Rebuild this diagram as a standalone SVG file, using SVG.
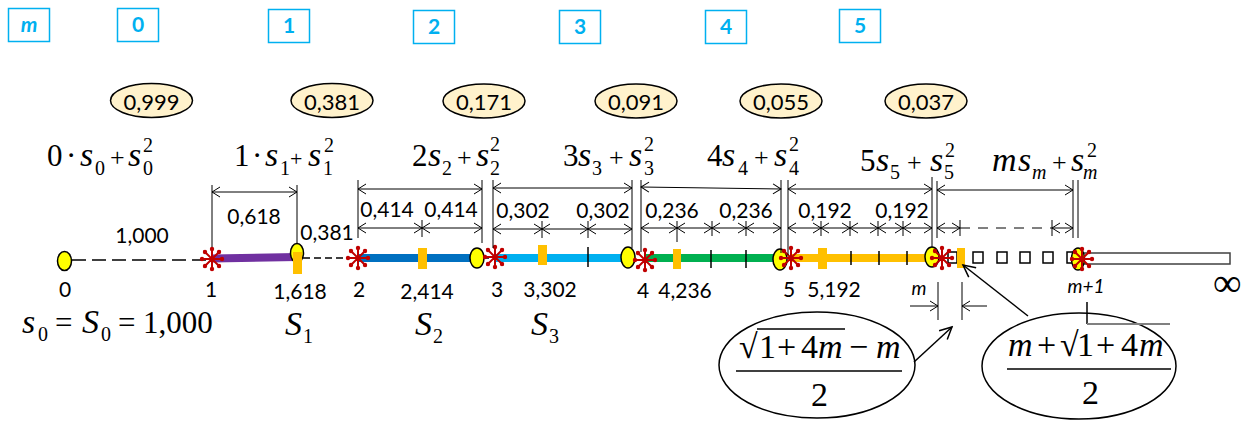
<svg xmlns="http://www.w3.org/2000/svg" width="1256" height="421" viewBox="0 0 1256 421">
<defs>
<style>
.bx{fill:none;stroke:#00B0F0;stroke-width:1.5}
.bt{font-family:Lato,"Liberation Sans",sans-serif;font-weight:bold;font-size:21px;fill:#00B0F0;text-anchor:middle}
.ve{fill:#FFF2CC;stroke:#000;stroke-width:1.5}
.n{font-family:Lato,"Liberation Sans",sans-serif;font-size:21px;fill:#000;text-anchor:middle}
.vn{font-family:Lato,"Liberation Sans",sans-serif;font-size:22px;fill:#000;text-anchor:middle}
.f{font-family:"Liberation Serif","Times New Roman",serif;font-size:31px;fill:#000}
.fb{font-family:"Liberation Serif","Times New Roman",serif;font-size:34px;fill:#000}
.i{font-style:italic;font-size:34px}
.s{font-size:20px}
.si{font-size:20px;font-style:italic}
.p{font-size:26px}
.dl{stroke:#000;stroke-width:1;fill:none}
.da{stroke:#000;stroke-width:1;fill:none;marker-start:url(#ah);marker-end:url(#ah)}
.yel{fill:#FFFF00;stroke:#000;stroke-width:1.5}
.or{fill:#FFC000}
.tk{stroke:#000;stroke-width:1.5}
.sq{fill:#fff;stroke:#000;stroke-width:1.5}
.it{font-family:Lato,"Liberation Sans",sans-serif;font-size:19px;font-style:italic;fill:#000;text-anchor:middle}
</style>
<marker id="ah" viewBox="-10 -6 12 12" refX="0" refY="0" markerWidth="12" markerHeight="12" markerUnits="userSpaceOnUse" orient="auto-start-reverse"><path d="M-8,-5L0,0L-8,5" fill="none" stroke="#000" stroke-width="1"/></marker>
<marker id="ah2" viewBox="-14 -8 16 16" refX="0" refY="0" markerWidth="16" markerHeight="16" markerUnits="userSpaceOnUse" orient="auto"><path d="M-12,-6L0,0L-12,6" fill="none" stroke="#000" stroke-width="1.5"/></marker>
<g id="ast">
<path d="M0,-11V11M-11,0H11M-7.8,-7.8L7.8,7.8M-7.8,7.8L7.8,-7.8" stroke="#C00000" stroke-width="2" stroke-linecap="round"/>
<g fill="#C00000"><circle cx="0" cy="-10" r="2.2"/><circle cx="0" cy="10" r="2.2"/><circle cx="-10" cy="0" r="2.2"/><circle cx="10" cy="0" r="2.2"/><circle cx="-7" cy="-7" r="2.2"/><circle cx="7" cy="7" r="2.2"/><circle cx="-7" cy="7" r="2.2"/><circle cx="7" cy="-7" r="2.2"/></g>
</g>
</defs>
<rect width="1256" height="421" fill="#fff"/>

<g id="index-boxes">
<g id="box-m"><rect class="bx" x="8.5" y="8.5" width="41" height="33"/><text class="bt" x="29" y="32" font-style="italic">m</text></g>
<g id="box-0"><rect class="bx" x="117.5" y="8.5" width="41" height="33"/><text class="bt" x="138" y="32">0</text></g>
<g id="box-1"><rect class="bx" x="268.5" y="9.5" width="41" height="33"/><text class="bt" x="289" y="33">1</text></g>
<g id="box-2"><rect class="bx" x="413.5" y="10.5" width="41" height="33"/><text class="bt" x="434" y="34">2</text></g>
<g id="box-3"><rect class="bx" x="559.5" y="10.5" width="41" height="33"/><text class="bt" x="580" y="34">3</text></g>
<g id="box-4"><rect class="bx" x="705.5" y="10.5" width="41" height="33"/><text class="bt" x="726" y="34">4</text></g>
<g id="box-5"><rect class="bx" x="839.5" y="9.5" width="41" height="33"/><text class="bt" x="860" y="33">5</text></g>
</g>

<g id="values">
<g id="v0"><ellipse class="ve" cx="151.5" cy="100.5" rx="41" ry="17"/><text class="vn" x="151.5" y="110">0,999</text></g>
<g id="v1"><ellipse class="ve" cx="332" cy="100.5" rx="41" ry="17"/><text class="vn" x="332" y="110">0,381</text></g>
<g id="v2"><ellipse class="ve" cx="484" cy="101" rx="41" ry="17"/><text class="vn" x="484" y="110">0,171</text></g>
<g id="v3"><ellipse class="ve" cx="636" cy="101" rx="41" ry="17"/><text class="vn" x="636" y="110">0,091</text></g>
<g id="v4"><ellipse class="ve" cx="781" cy="101" rx="41" ry="17"/><text class="vn" x="781" y="110">0,055</text></g>
<g id="v5"><ellipse class="ve" cx="926" cy="101" rx="41" ry="17"/><text class="vn" x="926" y="110">0,037</text></g>
</g>

<g id="formulas">
<text id="f0" class="f"><tspan x="47" y="166">0</tspan><tspan x="66">·</tspan><tspan x="80" class="i">s</tspan><tspan x="95" y="175" class="s">0</tspan><tspan x="110" y="166" class="p">+</tspan><tspan x="128" class="i">s</tspan><tspan x="143" y="152" class="s">2</tspan><tspan x="143" y="175" class="s">0</tspan></text>
<text id="f1" class="f"><tspan x="234" y="166">1</tspan><tspan x="252">·</tspan><tspan x="265" class="i">s</tspan><tspan x="280" y="175" class="s">1</tspan><tspan x="290" y="166" font-size="22">+</tspan><tspan x="308" class="i">s</tspan><tspan x="324" y="152" class="s">2</tspan><tspan x="323" y="175" class="s">1</tspan></text>
<text id="f2" class="f"><tspan x="412" y="166">2</tspan><tspan x="428" class="i">s</tspan><tspan x="442" y="175" class="s">2</tspan><tspan x="457" y="166" class="p">+</tspan><tspan x="476" class="i">s</tspan><tspan x="490" y="151" class="s">2</tspan><tspan x="490" y="175" class="s">2</tspan></text>
<text id="f3" class="f"><tspan x="563" y="166">3</tspan><tspan x="578" class="i">s</tspan><tspan x="592" y="175" class="s">3</tspan><tspan x="609" y="166" class="p">+</tspan><tspan x="629" class="i">s</tspan><tspan x="644" y="151" class="s">2</tspan><tspan x="644" y="175" class="s">3</tspan></text>
<text id="f4" class="f"><tspan x="707" y="166">4</tspan><tspan x="722" class="i">s</tspan><tspan x="738" y="175" class="s">4</tspan><tspan x="754" y="166" class="p">+</tspan><tspan x="774" class="i">s</tspan><tspan x="789" y="151" class="s">2</tspan><tspan x="789" y="175" class="s">4</tspan></text>
<text id="f5" class="f"><tspan x="860" y="171">5</tspan><tspan x="876" class="i">s</tspan><tspan x="890" y="179" class="s">5</tspan><tspan x="907" y="171" class="p">+</tspan><tspan x="930" class="i">s</tspan><tspan x="945" y="157" class="s">2</tspan><tspan x="944" y="179" class="s">5</tspan></text>
<text id="fm" class="f"><tspan x="992" y="171" class="i">m</tspan><tspan x="1018" class="i">s</tspan><tspan x="1032" y="179" class="si">m</tspan><tspan x="1052" y="171" class="p">+</tspan><tspan x="1071" class="i">s</tspan><tspan x="1087" y="157" class="s">2</tspan><tspan x="1083" y="179" class="si">m</tspan></text>
</g>

<g id="axis">
<line x1="72" y1="260" x2="208" y2="260" stroke="#000" stroke-width="1.5" stroke-dasharray="14 6"/>
<line x1="200" y1="259" x2="212" y2="259" stroke="#000" stroke-width="1.5"/>
<line x1="303" y1="258" x2="352" y2="258" stroke="#000" stroke-width="1.5" stroke-dasharray="7 4"/>
<path d="M212,258.5L297,257" stroke="#7030A0" stroke-width="8"/>
<line x1="358" y1="258" x2="476" y2="258" stroke="#0070C0" stroke-width="8"/>
<line x1="483" y1="258" x2="489" y2="258" stroke="#000" stroke-width="1.5"/>
<line x1="495" y1="258" x2="628" y2="258" stroke="#00B0F0" stroke-width="8"/>
<line x1="645" y1="258" x2="778" y2="258" stroke="#00B050" stroke-width="8"/>
<line x1="790" y1="258" x2="931" y2="258" stroke="#FFC000" stroke-width="8"/>
<g id="ticks">
<line class="tk" x1="588" y1="247" x2="588" y2="267"/>
<line class="tk" x1="711" y1="250" x2="711" y2="268"/>
<line class="tk" x1="746" y1="250" x2="746" y2="268"/>
<line class="tk" x1="851" y1="251" x2="851" y2="265"/>
<line class="tk" x1="879" y1="251" x2="879" y2="265"/>
<line class="tk" x1="907" y1="251" x2="907" y2="265"/>
</g>
<g id="squares">
<rect class="sq" x="948" y="252" width="9" height="11"/>
<rect class="sq" x="973" y="252" width="10" height="11"/>
<rect class="sq" x="997" y="252" width="10" height="11"/>
<rect class="sq" x="1020" y="252" width="10" height="11"/>
<rect class="sq" x="1043" y="252" width="10" height="11"/>
<rect class="sq" x="1067" y="252" width="10" height="11"/>
<rect x="1083" y="253" width="147" height="11" fill="#fff" stroke="#404040" stroke-width="1.5"/>
</g>
<g id="points">
<ellipse class="yel" cx="64.5" cy="261" rx="7" ry="9.5"/>
<ellipse class="yel" cx="297" cy="253" rx="6.5" ry="9.5"/>
<ellipse class="yel" cx="477" cy="258" rx="7" ry="10"/>
<ellipse class="yel" cx="628" cy="257.5" rx="7" ry="10.5"/>
<ellipse class="yel" cx="780" cy="259.5" rx="7" ry="10.5"/>
<ellipse class="yel" cx="932" cy="257" rx="7" ry="10"/>
<ellipse class="yel" cx="1078" cy="259" rx="6.5" ry="11"/>
</g>
<g id="marks">
<rect class="or" x="293" y="252" width="9" height="22"/>
<rect class="or" x="418" y="248" width="9" height="21"/>
<rect class="or" x="538" y="245" width="9" height="20"/>
<rect class="or" x="673" y="249" width="8" height="20"/>
<rect class="or" x="818" y="248" width="9" height="21"/>
<rect class="or" x="957" y="248" width="8" height="20"/>
</g>
<g id="stars">
<use href="#ast" x="212" y="259"/>
<use href="#ast" x="358" y="258"/>
<use href="#ast" x="495" y="257"/>
<use href="#ast" x="645" y="260"/>
<use href="#ast" x="791" y="258"/>
<use href="#ast" x="942" y="258"/>
<use href="#ast" x="1082" y="259"/>
</g>
</g>

<g id="dimensions">
<g id="ext">
<line class="dl" x1="212" y1="185" x2="212" y2="247"/>
<line class="dl" x1="297" y1="185" x2="297" y2="243"/>
<line class="dl" x1="358" y1="180" x2="358" y2="238"/>
<line class="dl" x1="482" y1="180" x2="482" y2="243"/>
<line class="dl" x1="493" y1="180" x2="493" y2="248"/>
<line class="dl" x1="632" y1="180" x2="632" y2="248"/>
<line class="dl" x1="641" y1="180" x2="641" y2="252"/>
<line class="dl" x1="781" y1="180" x2="781" y2="253"/>
<line class="dl" x1="788" y1="180" x2="788" y2="255"/>
<line class="dl" x1="932" y1="177" x2="932" y2="247"/>
<line class="dl" x1="937" y1="181" x2="937" y2="238"/>
<line class="dl" x1="1073" y1="180" x2="1073" y2="238"/>
<line class="dl" x1="1078" y1="180" x2="1078" y2="238"/>
</g>
<g id="upper">
<line class="da" x1="212" y1="192" x2="297" y2="192"/>
<line class="da" x1="358" y1="189" x2="482" y2="189"/>
<line class="da" x1="493" y1="188" x2="632" y2="188"/>
<line class="da" x1="641" y1="187" x2="781" y2="189"/>
<line class="da" x1="788" y1="189" x2="932" y2="189"/>
<line class="da" x1="937" y1="190" x2="1073" y2="190"/>
</g>
<g id="lower">
<line class="da" x1="358" y1="228" x2="422" y2="228"/><line class="da" x1="422" y1="228" x2="482" y2="228"/>
<line class="dl" x1="422" y1="220" x2="422" y2="237"/>
<line class="da" x1="493" y1="229" x2="542" y2="229"/><line class="da" x1="542" y1="229" x2="588" y2="229"/><line class="da" x1="588" y1="229" x2="632" y2="229"/>
<line class="dl" x1="542" y1="221" x2="542" y2="238"/><line class="dl" x1="588" y1="221" x2="588" y2="238"/>
<line class="da" x1="641" y1="228" x2="677" y2="228"/><line class="da" x1="677" y1="228" x2="712" y2="228"/><line class="da" x1="712" y1="228" x2="746" y2="228"/><line class="da" x1="746" y1="228" x2="781" y2="228"/>
<line class="dl" x1="677" y1="221" x2="677" y2="242"/><line class="dl" x1="712" y1="221" x2="712" y2="236"/><line class="dl" x1="746" y1="221" x2="746" y2="236"/>
<line class="da" x1="788" y1="228" x2="821" y2="228"/><line class="da" x1="821" y1="228" x2="850" y2="228"/><line class="da" x1="850" y1="228" x2="878" y2="228"/><line class="da" x1="878" y1="228" x2="903" y2="228"/><line class="da" x1="903" y1="228" x2="932" y2="228"/>
<line class="dl" x1="821" y1="221" x2="821" y2="236"/><line class="dl" x1="850" y1="221" x2="850" y2="236"/><line class="dl" x1="878" y1="221" x2="878" y2="236"/><line class="dl" x1="903" y1="221" x2="903" y2="236"/>
<line class="da" x1="937" y1="228" x2="960" y2="228"/>
<line class="dl" x1="960" y1="228" x2="1052" y2="228" stroke-dasharray="10 8"/>
<line class="da" x1="1052" y1="228" x2="1073" y2="228"/>
<line class="dl" x1="960" y1="220" x2="960" y2="236"/><line class="dl" x1="1052" y1="220" x2="1052" y2="236"/>
</g>
<g id="dim-labels">
<text class="n" x="142" y="243">1,000</text>
<text class="n" x="254" y="224">0,618</text>
<text class="n" x="327" y="240">0,381</text>
<text class="n" x="387" y="217">0,414</text>
<text class="n" x="451" y="217">0,414</text>
<text class="n" x="523" y="218">0,302</text>
<text class="n" x="603" y="218">0,302</text>
<text class="n" x="672" y="218">0,236</text>
<text class="n" x="746" y="218">0,236</text>
<text class="n" x="825" y="218">0,192</text>
<text class="n" x="902" y="218">0,192</text>
</g>
</g>

<g id="axis-labels">
<text class="n" x="65" y="297">0</text>
<text class="n" x="211" y="297">1</text>
<text class="n" x="300" y="299">1,618</text>
<text class="n" x="359" y="297">2</text>
<text class="n" x="427" y="299">2,414</text>
<text class="n" x="497" y="297">3</text>
<text class="n" x="550" y="297">3,302</text>
<text class="n" x="643" y="298">4</text>
<text class="n" x="685" y="298">4,236</text>
<text class="n" x="789" y="297">5</text>
<text class="n" x="834" y="297">5,192</text>
<text class="it" x="919" y="295">m</text>
<text class="it" x="1086" y="293">m+1</text>
<text x="1213" y="296" font-family="'Liberation Serif',serif" font-size="40">∞</text>
</g>

<g id="sums">
<text class="f"><tspan x="22" y="333" class="i">s</tspan><tspan x="38" y="341" class="s">0</tspan><tspan x="55" y="333">=</tspan><tspan x="82" class="i">S</tspan><tspan x="101" y="341" class="s">0</tspan><tspan x="118" y="333">=</tspan><tspan x="143">1,000</tspan></text>
<text class="f"><tspan x="285" y="335" class="i">S</tspan><tspan x="303" y="343" class="s">1</tspan></text>
<text class="f"><tspan x="415" y="335" class="i">S</tspan><tspan x="433" y="343" class="s">2</tspan></text>
<text class="f"><tspan x="531" y="335" class="i">S</tspan><tspan x="549" y="343" class="s">3</tspan></text>
</g>

<g id="gap-m">
<line class="dl" x1="938" y1="282" x2="938" y2="320"/>
<line class="dl" x1="962" y1="282" x2="962" y2="320"/>
<line class="dl" x1="910" y1="306" x2="938" y2="306" marker-end="url(#ah)"/>
<line class="dl" x1="987" y1="306" x2="962" y2="306" marker-end="url(#ah)"/>
</g>

<g id="callout-1">
<ellipse cx="817" cy="365" rx="98" ry="53" fill="#fff" stroke="#000" stroke-width="1.5"/>
<text class="fb"><tspan x="739" y="358">√</tspan><tspan x="759">1</tspan><tspan x="777">+</tspan><tspan x="801">4</tspan><tspan x="818" class="i">m</tspan><tspan x="849">−</tspan><tspan x="876" class="i">m</tspan></text>
<line x1="757" y1="329" x2="845" y2="329" stroke="#000" stroke-width="1.5"/>
<line x1="736" y1="371" x2="902" y2="371" stroke="#000" stroke-width="1.5"/>
<text class="fb" x="811" y="406">2</text>
</g>

<g id="callout-2">
<ellipse cx="1079" cy="366" rx="97" ry="53" fill="#fff" stroke="#000" stroke-width="1.5"/>
<text class="fb"><tspan x="1008" y="356" class="i">m</tspan><tspan x="1037">+</tspan><tspan x="1060">√</tspan><tspan x="1077">1</tspan><tspan x="1096">+</tspan><tspan x="1121">4</tspan><tspan x="1139" class="i">m</tspan></text>
<line x1="1087" y1="302" x2="1087" y2="324" stroke="#000" stroke-width="1.5"/>
<line x1="1087" y1="324" x2="1170" y2="324" stroke="#808080" stroke-width="2"/>
<line x1="1007" y1="369" x2="1171" y2="369" stroke="#000" stroke-width="1.5"/>
<text class="fb" x="1082" y="404">2</text>
</g>

<g id="connectors">
<line x1="914" y1="362" x2="952" y2="327" stroke="#000" stroke-width="1.5" marker-end="url(#ah2)"/>
<line x1="1028" y1="316" x2="963" y2="265" stroke="#000" stroke-width="1.5" marker-end="url(#ah2)"/>
</g>
</svg>
